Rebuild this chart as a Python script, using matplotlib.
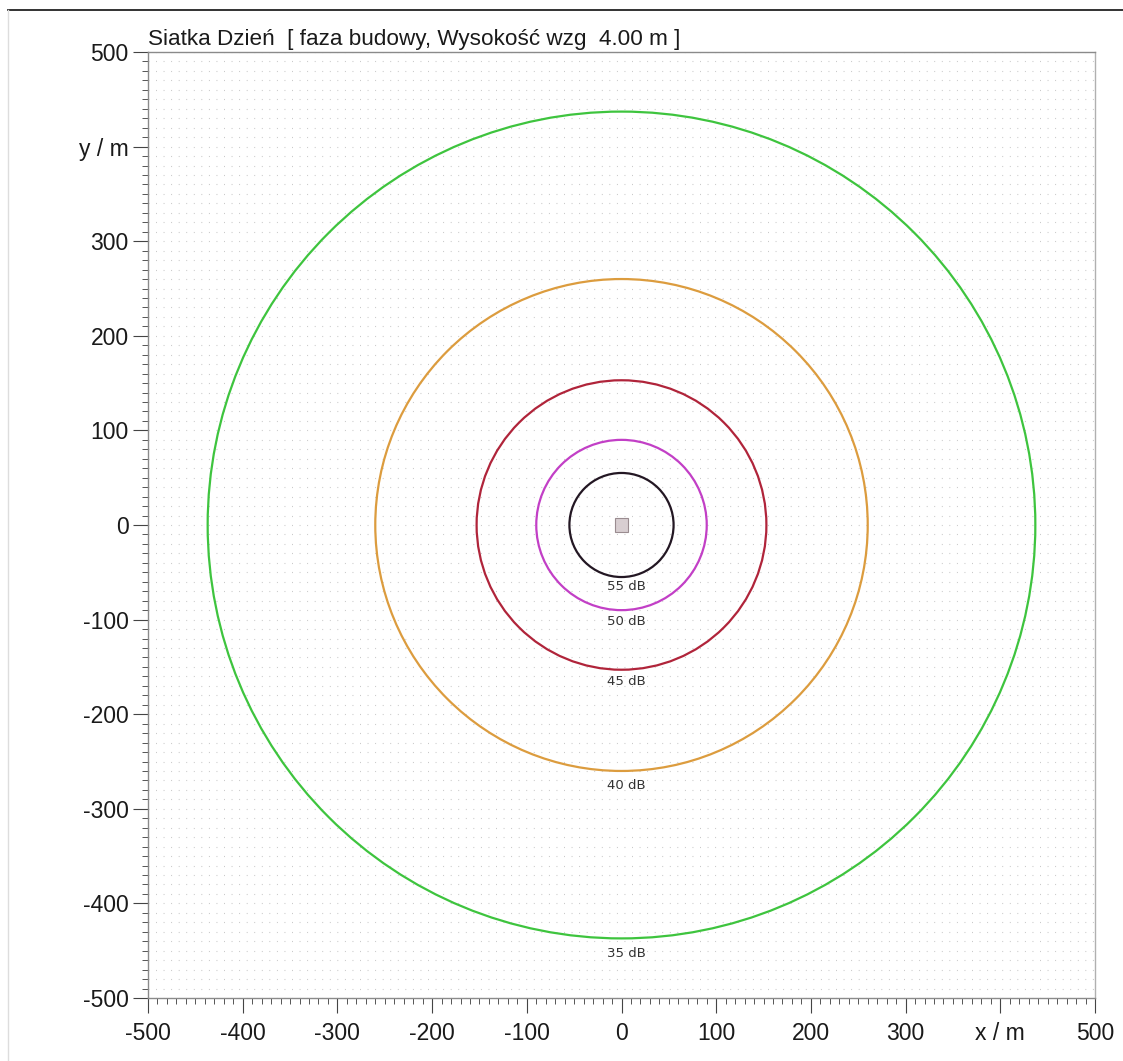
import numpy as np
import matplotlib
matplotlib.use("Agg")
import matplotlib.pyplot as plt
from matplotlib.patches import Circle, Rectangle
from matplotlib.ticker import FixedLocator, FixedFormatter, MultipleLocator

# ---- data ----
levels = ["55 dB", "50 dB", "45 dB", "40 dB", "35 dB"]
radii = [55, 90, 153, 260, 437]
colors = ["#231723", "#c23fc6", "#b0243a", "#dc9c3e", "#3ec43e"]
label_x = [5, 5, 5, 5, 5]
label_y = [-65, -102, -165, -275, -453]
source_xy = (0, 0)
source_size = 14

xticks = [-500, -400, -300, -200, -100, 0, 100, 200, 300, 400, 500]
xticklabels = ["-500", "-400", "-300", "-200", "-100", "0", "100", "200", "300", "x / m", "500"]
yticks = [-500, -400, -300, -200, -100, 0, 100, 200, 300, 400, 500]
yticklabels = ["-500", "-400", "-300", "-200", "-100", "0", "100", "200", "300", "y / m", "500"]
title = "Siatka Dzień  [ faza budowy, Wysokość wzg  4.00 m ]"

plt.rcParams['font.family'] = ['Liberation Sans', 'DejaVu Sans']

W, H = 1123, 1061
fig = plt.figure(figsize=(W / 100, H / 100), dpi=100)
ax = fig.add_axes([148 / W, 1 - 998 / H, (1095 - 148) / W, (998 - 52) / H])
ax.set_xlim(-500, 500)
ax.set_ylim(-500, 500)

# faint dot grid
ax.yaxis.grid(True, which='both', linestyle=(0, (0.8, 6.0)), color='#c4c4c4', lw=0.8)
ax.set_axisbelow(True)

for r, c in zip(radii, colors):
    ax.add_patch(Circle((0, 0), r, fill=False, edgecolor=c, lw=1.6, zorder=3))

for lab, lx, ly in zip(levels, label_x, label_y):
    ax.text(lx, ly, lab, ha='center', va='center', fontsize=9.5,
            family='DejaVu Sans', color='#333333', zorder=4)

ax.add_patch(Rectangle((source_xy[0] - source_size / 2, source_xy[1] - source_size / 2),
                       source_size, source_size, facecolor='#d8ced1',
                       edgecolor='#9a8c90', lw=0.8, zorder=4))

ax.xaxis.set_major_locator(FixedLocator(xticks))
ax.xaxis.set_major_formatter(FixedFormatter(xticklabels))
ax.yaxis.set_major_locator(FixedLocator(yticks))
ax.yaxis.set_major_formatter(FixedFormatter(yticklabels))
ax.xaxis.set_minor_locator(MultipleLocator(10))
ax.yaxis.set_minor_locator(MultipleLocator(10))

ax.tick_params(which='major', direction='out', length=11, width=0.8,
               color='#444444', labelsize=16.5, labelcolor='#1a1a1a', pad=3)
ax.tick_params(axis='x', which='major', pad=6)
ax.tick_params(which='minor', direction='out', length=4.5, width=0.7, color='#555555')

for s in ['left', 'bottom', 'top']:
    ax.spines[s].set_color('#8a8a8a')
    ax.spines[s].set_linewidth(1.0)
ax.spines['right'].set_color('#b0b0b0')
ax.spines['right'].set_linewidth(1.0)

ax.text(0, 1.0075, title, transform=ax.transAxes, ha='left', va='baseline',
        fontsize=16.2, color='#1a1a1a')

# page frame lines
fig.add_artist(plt.Line2D([8 / W, 1], [1 - 10 / H, 1 - 10 / H], color='#222222', lw=1.3))
fig.add_artist(plt.Line2D([8 / W, 8 / W], [0, 1 - 10 / H], color='#dddddd', lw=1.0))

fig.savefig("out.png", dpi=100)
